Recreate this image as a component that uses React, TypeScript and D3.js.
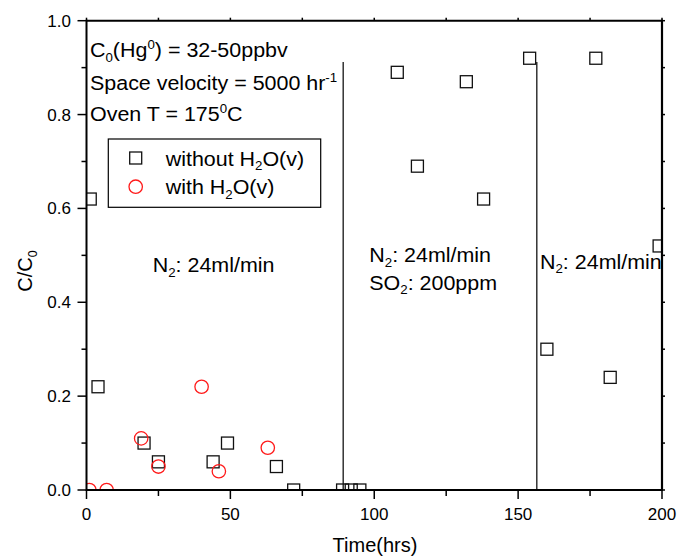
import React from "react";
import * as d3 from "d3";

const withoutX = [1.3, 4, 20, 25, 44, 49, 66, 72, 89, 92, 95, 108, 115, 132, 138, 154, 160, 177, 182, 199];
const withoutY = [0.62, 0.22, 0.1, 0.06, 0.06, 0.1, 0.05, 0, 0, 0, 0, 0.89, 0.69, 0.87, 0.62, 0.92, 0.3, 0.92, 0.24, 0.52];
const withX = [1, 7, 19, 25, 40, 46, 63];
const withY = [0, 0, 0.11, 0.05, 0.22, 0.04, 0.09];
const xMajor = [0, 50, 100, 150, 200];
const xMinor = [25, 75, 125, 175];
const yMajor = [0, 0.2, 0.4, 0.6, 0.8, 1.0];
const yMinor = [0.1, 0.3, 0.5, 0.7, 0.9];
const phaseBounds = [89.2, 156.5];
const phaseTop = 0.912;

const W = 677, H = 557;
const X0 = 86.5, X1 = 662, Y0 = 490, Y1 = 20.7;

const FONT = "Liberation Sans, Arial, sans-serif";

function SText({ x, y, children, size = 19.5 }: any) {
  return (
    <text transform={`translate(${x},${y}) scale(1.1,1)`} fontSize={size} fontFamily={FONT} fill="#000">
      {children}
    </text>
  );
}

const Sub = ({ c }: any) => (
  <tspan fontSize="0.62em" baselineShift="-5px">{c}</tspan>
);
const Sup = ({ c }: any) => (
  <tspan fontSize="0.62em" baselineShift="8px">{c}</tspan>
);

export default function App() {
  const x = d3.scaleLinear().domain([0, 200]).range([X0, X1]);
  const y = d3.scaleLinear().domain([0, 1]).range([Y0, Y1]);
  const sq = 12;
  const r = 6.7;

  return (
    <svg width={W} height={H} style={{ position: "absolute", left: 0, top: 0, background: "#fff" }}>
      <defs>
        <clipPath id="plot">
          <rect x={X0} y={Y1} width={X1 - X0} height={Y0 - Y1} />
        </clipPath>
      </defs>
      <rect x={0} y={0} width={W} height={H} fill="#fff" />

      {phaseBounds.map((b, i) => (
        <line key={i} x1={x(b)} x2={x(b)} y1={y(phaseTop)} y2={Y0} stroke="#000" strokeWidth={1.2} />
      ))}

      <g clipPath="url(#plot)">
        {withoutX.map((v, i) => (
          <rect key={"s" + i} x={x(v) - sq / 2} y={y(withoutY[i]) - sq / 2} width={sq} height={sq}
            fill="none" stroke="#111" strokeWidth={1.3} />
        ))}
        {withX.map((v, i) => (
          <circle key={"c" + i} cx={x(v)} cy={y(withY[i])} r={r} fill="none" stroke="#ff1a1a" strokeWidth={1.3} />
        ))}
      </g>

      <line x1={X0} x2={X1 + 1} y1={Y0} y2={Y0} stroke="#000" strokeWidth={2} />
      <line x1={X0} x2={X1 + 1} y1={Y1} y2={Y1} stroke="#000" strokeWidth={2} />
      <line x1={X0} x2={X0} y1={Y1 - 1} y2={Y0 + 1} stroke="#000" strokeWidth={2} />
      <line x1={X1} x2={X1} y1={Y1 - 1} y2={Y0 + 1} stroke="#000" strokeWidth={2.2} />

      {xMajor.map((t) => (
        <g key={"xm" + t}>
          <line x1={x(t)} x2={x(t)} y1={Y0} y2={Y0 + 9} stroke="#000" strokeWidth={1.5} />
          <line x1={x(t)} x2={x(t)} y1={Y1} y2={Y1 - 3} stroke="#000" strokeWidth={1.5} />
          <text x={x(t)} y={520} textAnchor="middle" fontSize={17} fontFamily={FONT}>{t}</text>
        </g>
      ))}
      {xMinor.map((t) => (
        <g key={"xn" + t}>
          <line x1={x(t)} x2={x(t)} y1={Y0} y2={Y0 + 6} stroke="#000" strokeWidth={1.5} />
          <line x1={x(t)} x2={x(t)} y1={Y1} y2={Y1 - 3} stroke="#000" strokeWidth={1.5} />
        </g>
      ))}

      {yMajor.map((t) => (
        <g key={"ym" + t}>
          <line x1={X0 - 9} x2={X0} y1={y(t)} y2={y(t)} stroke="#000" strokeWidth={1.5} />
          <line x1={X1} x2={X1 + 3} y1={y(t)} y2={y(t)} stroke="#000" strokeWidth={1.5} />
          <text x={71} y={y(t) + 6} textAnchor="end" fontSize={17} fontFamily={FONT}>{d3.format(".1f")(t)}</text>
        </g>
      ))}
      {yMinor.map((t) => (
        <g key={"yn" + t}>
          <line x1={X0 - 5} x2={X0} y1={y(t)} y2={y(t)} stroke="#000" strokeWidth={1.5} />
          <line x1={X1} x2={X1 + 3} y1={y(t)} y2={y(t)} stroke="#000" strokeWidth={1.5} />
        </g>
      ))}

      <text x={375} y={552} textAnchor="middle" fontSize={20} fontFamily={FONT}>Time(hrs)</text>
      <text transform={`translate(32,271) rotate(-90)`} textAnchor="middle" fontSize={20} fontFamily={FONT}>
        C/C<Sub c="0" />
      </text>

      <SText x={90} y={57}>C<Sub c="0" />(Hg<Sup c="0" />) = 32-50ppbv</SText>
      <SText x={90} y={89.5}>Space velocity = 5000 hr<Sup c="-1" /></SText>
      <SText x={90} y={121}>Oven T = 175<Sup c="0" />C</SText>

      <rect x={108.3} y={139} width={212.4} height={68.3} fill="#fff" stroke="#000" strokeWidth={1.2} />
      <rect x={135.7 - 6} y={158 - 6} width={12} height={12} fill="none" stroke="#111" strokeWidth={1.3} />
      <circle cx={135.7} cy={186.7} r={r} fill="none" stroke="#ff1a1a" strokeWidth={1.3} />
      <SText x={165.7} y={165.7}>without H<Sub c="2" />O(v)</SText>
      <SText x={165.7} y={194}>with H<Sub c="2" />O(v)</SText>

      <SText x={152.7} y={272}>N<Sub c="2" />: 24ml/min</SText>
      <SText x={369.3} y={262}>N<Sub c="2" />: 24ml/min</SText>
      <SText x={369.3} y={289.5}>SO<Sub c="2" />: 200ppm</SText>
      <SText x={540} y={268.5}>N<Sub c="2" />: 24ml/min</SText>
    </svg>
  );
}
